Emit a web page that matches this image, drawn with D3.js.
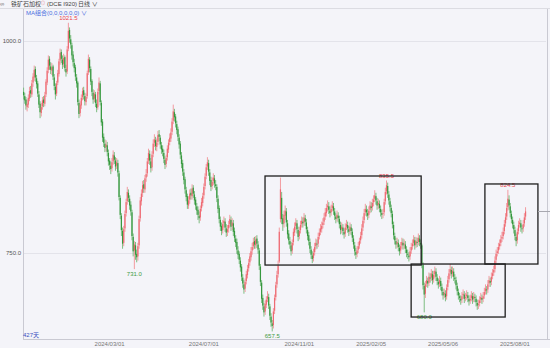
<!DOCTYPE html>
<html>
<head>
<meta charset="utf-8">
<script src="https://cdn.jsdelivr.net/npm/d3@7"></script>
<style>
  body { margin: 0; background: #f4f4f9; }
  svg { display: block; }
</style>
</head>
<body>
<div id="chart"></div>
<script>
// daily candles, oldest first (427 trading days)
const opens = [
  940,935,931,922,925,932,942,937,951,957,967,956,950,937,926,915,923,931,926,937,
  951,966,979,970,965,970,957,946,938,951,961,977,987,978,973,981,967,964,991,1013,
  1002,995,984,974,969,957,951,927,915,924,934,942,935,928,935,963,978,967,953,939,
  932,937,926,922,941,950,927,905,887,879,875,877,868,859,853,850,858,865,859,853,
  856,844,815,794,776,762,779,797,811,821,814,807,798,769,753,759,749,746,759,791,
  811,821,831,825,839,844,859,867,858,851,867,880,883,875,881,890,886,877,873,868,
  860,855,863,872,881,885,893,906,916,911,902,896,886,879,865,856,845,837,824,817,
  806,813,821,817,827,819,813,805,801,794,792,803,809,818,829,841,852,856,845,836,
  829,835,838,831,828,814,803,789,782,777,785,787,779,775,779,784,789,782,785,776,
  767,763,753,749,741,734,721,713,708,717,724,732,739,745,753,758,764,759,767,760,
  753,734,715,697,687,681,689,696,698,687,675,667,665,682,698,713,725,740,790,815,
  791,785,794,799,785,773,764,759,753,763,774,782,785,777,770,777,784,787,786,791,
  786,777,771,763,754,747,744,751,758,761,761,770,775,778,783,787,793,797,804,805,
  800,798,803,805,799,793,791,794,790,783,778,780,775,773,781,783,778,776,780,775,
  767,759,751,749,754,759,765,771,780,789,798,801,797,795,801,805,804,810,814,817,
  811,807,808,802,797,796,798,811,823,829,819,811,803,796,783,770,764,761,762,756,
  753,759,762,760,760,754,749,747,746,753,758,762,765,760,763,763,767,762,759,736,
  711,702,714,717,715,721,721,725,719,725,728,721,716,714,717,710,704,701,702,699,
  710,719,727,730,726,728,721,718,711,704,699,696,695,700,701,697,699,700,696,694,
  697,699,696,698,696,691,689,691,695,697,696,700,705,707,707,714,717,716,723,727,
  731,742,750,753,758,762,767,770,776,785,793,804,813,805,796,789,783,777,769,765,
  776,784,785,779,779,785,793
];
const closes = [
  936,930,924,926,933,941,938,950,958,966,957,949,938,925,916,922,930,927,936,952,
  965,978,971,966,969,958,947,937,950,962,976,986,979,972,980,968,963,990,1012,1003,
  996,983,975,968,958,950,928,914,925,933,941,936,929,934,962,979,968,952,940,931,
  938,927,921,940,951,928,904,886,880,874,878,869,858,854,849,857,866,860,852,857,
  845,816,795,777,761,778,796,810,822,815,806,799,770,752,760,748,745,758,790,812,
  820,830,826,838,843,858,868,859,850,866,879,884,876,880,889,887,878,872,869,861,
  854,862,873,880,886,892,905,917,910,903,895,887,878,866,855,846,836,825,816,807,
  812,820,818,826,820,812,806,800,795,791,802,810,817,828,840,851,857,846,835,828,
  834,839,832,829,815,802,790,781,776,784,788,780,774,778,783,790,781,786,775,768,
  762,754,748,742,733,722,714,707,716,725,731,738,746,752,757,763,760,766,761,754,
  735,716,696,688,680,690,695,699,688,676,668,664,681,697,712,724,735,775,825,790,
  784,795,800,786,772,765,760,752,762,775,781,786,778,769,776,783,788,785,792,787,
  778,770,764,755,748,743,750,757,762,760,769,774,779,782,786,792,798,803,806,801,
  797,802,806,800,794,790,795,791,784,777,781,776,772,780,784,779,775,781,776,768,
  760,752,748,753,758,764,770,779,788,797,802,798,794,800,806,803,809,813,818,812,
  806,809,803,798,795,797,810,822,830,820,812,804,797,784,771,765,760,763,757,752,
  758,763,759,761,755,750,748,745,752,757,761,766,759,764,762,768,763,760,737,712,
  701,713,718,714,722,720,726,718,724,729,722,717,713,718,711,705,700,703,698,709,
  718,726,731,725,729,722,719,712,705,700,697,694,699,702,696,698,701,697,693,696,
  700,695,699,697,692,688,690,694,698,695,699,704,708,706,713,718,715,722,726,730,
  741,749,752,757,761,766,769,775,784,792,803,814,806,797,790,784,778,770,764,775,
  783,786,780,778,784,792,799
];
const highs = [
  945,939,934,931,937,946,947,954,962,971,970,960,953,941,929,927,934,935,940,955,
  969,983,982,975,974,972,961,950,953,966,979,991,990,983,985,983,972,994,1021.5,1016,
  1007,998,988,979,972,961,953,931,929,937,945,946,939,938,965,984,981,970,955,943,
  942,940,931,944,957,953,930,908,891,884,883,881,872,862,858,862,871,869,863,862,
  860,847,818,797,780,782,800,814,828,825,818,811,801,773,764,763,754,762,794,816,
  825,835,836,842,849,862,873,871,862,870,884,890,887,885,894,895,889,881,877,872,
  864,866,877,884,891,897,909,925,920,914,906,899,890,882,869,860,849,840,828,820,
  817,825,826,831,830,823,816,809,805,799,806,815,821,832,844,855,863,860,849,840,
  839,844,842,836,831,818,806,793,786,789,793,791,784,783,788,795,793,791,789,780,
  771,767,758,752,745,737,725,718,720,729,736,743,750,757,762,768,769,770,771,764,
  756,737,718,701,691,694,699,705,702,690,679,671,685,701,716,729,741,780,839,822,
  796,800,806,803,789,777,769,763,766,779,786,791,789,781,781,788,793,792,797,795,
  790,781,775,767,758,752,755,762,767,766,774,779,784,787,791,797,803,808,812,810,
  805,807,811,809,803,797,800,798,794,787,786,784,779,785,789,787,782,786,784,779,
  771,763,756,758,763,768,775,784,793,802,808,806,802,805,811,810,814,818,824,821,
  815,814,812,806,801,802,814,827,835.5,833,823,815,807,800,787,774,768,768,766,760,
  763,768,767,766,764,758,754,751,757,762,766,771,769,769,768,773,771,766,761,739,
  715,717,723,721,727,726,731,729,729,734,732,725,720,723,721,714,708,708,706,713,
  723,731,737,734,734,732,725,722,715,708,703,700,704,707,705,703,706,704,700,701,
  705,703,704,702,700,695,695,699,703,701,704,709,713,711,718,723,721,727,731,735,
  746,754,757,762,766,771,775,780,789,797,809,824.5,818,809,800,793,787,781,773,779,
  788,791,789,783,789,797,804
];
const lows = [
  931,926,919,917,921,929,933,934,946,953,952,944,934,921,909,911,919,922,923,934,
  948,962,966,961,960,954,942,931,935,948,958,972,974,967,969,964,958,961,988,998,
  991,978,970,963,953,945,924,909,911,920,930,931,924,924,932,960,963,948,935,926,
  928,922,916,919,937,924,900,881,875,869,870,864,853,848,843,846,854,855,847,849,
  840,812,790,770,755,758,775,793,807,810,801,794,765,746,731,742,739,741,755,787,
  806,816,821,821,834,840,855,854,845,847,863,875,871,870,877,882,873,867,864,856,
  849,851,859,868,877,881,889,902,905,898,890,882,873,861,850,841,831,820,811,802,
  802,808,813,813,815,807,801,795,789,785,788,799,805,814,825,837,848,841,830,823,
  825,830,827,824,810,797,785,776,771,773,780,775,769,770,774,780,776,777,770,763,
  757,749,743,737,728,717,709,702,704,713,720,728,735,741,748,754,755,755,756,749,
  730,711,691,683,675,677,685,692,684,671,663,657.5,661,678,694,709,721,738,786,784,
  776,780,789,781,767,760,755,747,749,759,770,777,773,764,766,773,780,780,782,782,
  773,765,759,750,743,738,740,747,754,755,757,766,771,774,779,783,789,793,799,796,
  792,794,799,795,789,785,787,786,779,772,773,771,767,769,777,774,770,772,771,763,
  755,747,743,745,750,755,761,767,776,785,794,793,789,791,797,798,800,805,810,807,
  801,802,798,793,790,791,794,807,819,815,807,799,792,779,766,760,755,756,752,747,
  749,755,754,755,750,745,743,740,742,749,754,758,754,756,757,759,758,755,732,707,
  680,697,710,709,711,715,717,713,715,721,717,712,708,710,706,700,695,697,693,695,
  706,715,723,720,722,717,714,707,700,695,692,689,691,696,691,693,695,692,688,690,
  693,690,692,692,687,683,684,687,691,690,692,696,701,701,703,710,710,712,719,723,
  727,738,746,749,754,758,763,766,772,781,789,800,801,792,785,779,773,765,758,761,
  772,780,775,773,775,781,789
];

// x axis labels and the candle they sit under
const dateLabels = ["2024/03/01", "2024/07/01", "2024/11/01", "2025/02/05", "2025/05/06", "2025/08/01"];
const dateIndex = [73, 153, 234, 295, 356, 417];

const yTicks = [750, 1000];

// candles whose high / low gets a value label
const peakIndex = [38, 308, 411];
const troughIndex = [94, 211, 340];

// hand-drawn boxes: candle range and price range
const boxStart = [205.4, 329.4, 392];
const boxEnd = [337.9, 409.2, 437];
const boxLow = [735.8, 674.5, 737];
const boxHigh = [840.8, 737, 831.4];

const titleName = "铁矿石加权";
const titleCode = "(DCE I920)";
const periodName = "日线";
const maText = "MA组合(0,0,0,0,0,0)";
const dayCount = "427天";

var w = 550, h = 348;
var upColor = "#ee6a73", downColor = "#36983f";
var upWick = "#f29ba0", downWick = "#7dbd82";
var font = "'Liberation Sans', 'Noto Sans CJK SC', sans-serif";

var n = Math.min(opens.length, closes.length, highs.length, lows.length);
var candles = d3.range(n).map(function (i) {
    return { i: i, o: opens[i], c: closes[i], h: highs[i], l: lows[i] };
});

var xScale = d3.scaleLinear().domain([0, 443]).range([23, 545]);
var yScale = d3.scaleLinear().domain([750, 1000]).range([253, 41]);

var svg = d3.select("#chart").append("svg")
    .attr("width", w)
    .attr("height", h)
    .style("font-family", font);

svg.append("rect").attr("width", w).attr("height", h).attr("fill", "#f4f4f9");

// header
svg.append("line").attr("x1", 0).attr("x2", w).attr("y1", 8.5).attr("y2", 8.5)
    .attr("stroke", "#dcdce2");
svg.append("text").attr("x", 0).attr("y", 6).attr("font-size", 6).attr("fill", "#666").text("∞");
var title = svg.append("text").attr("x", 11).attr("y", 6).attr("font-size", 6).attr("fill", "#444");
title.append("tspan").text(titleName);
title.append("tspan").attr("fill", "#e0525a").attr("font-size", 4).attr("dy", -1.5).text("◎");
title.append("tspan").attr("dy", 1.5).attr("dx", 2).text(titleCode);
svg.append("text").attr("x", 78).attr("y", 6).attr("font-size", 6).attr("fill", "#444")
    .text(periodName + " ∨");

// grid and axes
svg.selectAll(".grid").data(yTicks).enter().append("line")
    .attr("x1", 23).attr("x2", 546)
    .attr("y1", function (d) { return Math.round(yScale(d)) + 0.5; })
    .attr("y2", function (d) { return Math.round(yScale(d)) + 0.5; })
    .attr("stroke", "#e3e3ea");
svg.selectAll(".ylab").data(yTicks).enter().append("text")
    .attr("x", 21).attr("y", function (d) { return yScale(d) + 2; })
    .attr("text-anchor", "end").attr("font-size", 6).attr("fill", "#555")
    .text(function (d) { return d.toFixed(1); });

svg.append("line").attr("x1", 23.5).attr("x2", 23.5).attr("y1", 9).attr("y2", 339.5).attr("stroke", "#c9c9d2");
svg.append("line").attr("x1", 23).attr("x2", w).attr("y1", 339.5).attr("y2", 339.5).attr("stroke", "#c9c9d2");
svg.append("line").attr("x1", 547.5).attr("x2", 547.5).attr("y1", 9).attr("y2", 339.5).attr("stroke", "#c9c9d2");

svg.selectAll(".xlab").data(dateLabels).enter().append("text")
    .attr("x", function (d, i) { return xScale(dateIndex[i] + 0.5); })
    .attr("y", 346).attr("text-anchor", "middle").attr("font-size", 6).attr("fill", "#777")
    .text(function (d) { return d; });

// candles
var g = svg.append("g");
g.selectAll(".wick").data(candles).enter().append("line")
    .attr("x1", function (d) { return xScale(d.i + 0.5); })
    .attr("x2", function (d) { return xScale(d.i + 0.5); })
    .attr("y1", function (d) { return yScale(d.h); })
    .attr("y2", function (d) { return yScale(d.l); })
    .attr("stroke", function (d) { return d.c >= d.o ? upWick : downWick; })
    .attr("stroke-width", 1);
g.selectAll(".body").data(candles).enter().append("rect")
    .attr("x", function (d) { return xScale(d.i + 0.5) - 0.6; })
    .attr("width", 1.2)
    .attr("y", function (d) { return yScale(Math.max(d.o, d.c)); })
    .attr("height", function (d) { return Math.max(0.8, Math.abs(yScale(d.o) - yScale(d.c))); })
    .attr("fill", function (d) { return d.c >= d.o ? upColor : downColor; });

// high / low labels
svg.selectAll(".peak").data(peakIndex).enter().append("text")
    .attr("x", function (d) { return xScale(d + 0.5); })
    .attr("y", function (d) { return yScale(highs[d]) - 2.5; })
    .attr("text-anchor", "middle").attr("font-size", 6).attr("fill", "#e8424c")
    .text(function (d) { return highs[d].toFixed(1); });
svg.selectAll(".trough").data(troughIndex).enter().append("text")
    .attr("x", function (d) { return xScale(d + 0.5); })
    .attr("y", function (d) { return yScale(lows[d]) + 6.5; })
    .attr("text-anchor", "middle").attr("font-size", 6).attr("fill", "#3e9a42")
    .text(function (d) { return lows[d].toFixed(1); });

// boxes
svg.selectAll(".box").data(boxStart).enter().append("rect")
    .attr("x", function (d) { return xScale(d); })
    .attr("y", function (d, i) { return yScale(boxHigh[i]); })
    .attr("width", function (d, i) { return xScale(boxEnd[i]) - xScale(d); })
    .attr("height", function (d, i) { return yScale(boxLow[i]) - yScale(boxHigh[i]); })
    .attr("fill", "none").attr("stroke", "#1e1e1e").attr("stroke-width", 1.3);

// last price marker on the right edge
var lastY = Math.round(yScale(closes[n - 1])) + 0.5;
svg.append("line").attr("x1", 538).attr("x2", w).attr("y1", lastY).attr("y2", lastY)
    .attr("stroke", "#a8a8b0");

svg.append("text").attr("x", 26).attr("y", 14.5).attr("font-size", 6).attr("fill", "#4a6ee0")
    .text(maText + " ∨");
svg.append("text").attr("x", 23).attr("y", 337).attr("font-size", 6).attr("fill", "#3a4fc0")
    .text(dayCount);
</script>
</body>
</html>
